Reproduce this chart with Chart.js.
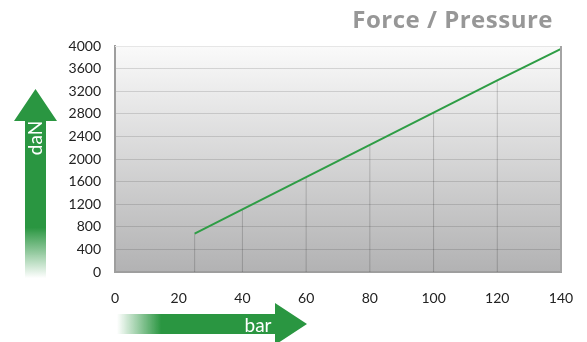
<!DOCTYPE html>
<html>
<head>
  <meta charset="utf-8">
  <script src="https://cdn.jsdelivr.net/npm/chart.js@4.4.1/dist/chart.umd.min.js"></script>
  <style>
    html, body { margin: 0; padding: 0; background: #fff; }
    .chart-box { position: relative; width: 587px; height: 342px; }
    .chart-title { position: absolute; right: 34px; top: 2px; font: bold 24px "Open Sans", sans-serif; color: #979797; letter-spacing: 0.5px; }
  </style>
</head>
<body>
  <div class="chart-box">
    <canvas id="forceChart" width="587" height="342"></canvas>
    <div class="chart-title">Force / Pressure</div>
  </div>

  <script>
    // Pressure (bar) and resulting force (daN)
    const pressures = [25, 40, 60, 80, 100, 120, 140];
    const forces = [680, 1110, 1680, 2250, 2820, 3390, 3950];

    const xTicks = [0, 20, 40, 60, 80, 100, 120, 140];
    const yTicks = [0, 400, 800, 1200, 1600, 2000, 2400, 2800, 3200, 3600, 4000];

    const green = "#2a9641";

    // vertical drop lines from the axis up to the curve
    const dropSets = pressures.slice(0, -1).map((p, i) => ({
      type: "line",
      data: [{ x: p, y: 0 }, { x: p, y: forces[i] }],
      borderColor: "rgba(0,0,0,0.18)",
      borderWidth: 1,
      pointRadius: 0,
      order: 2,
    }));

    // gray gradient behind the plot
    const plotBackground = {
      id: "plotBackground",
      beforeDraw(chart) {
        const { ctx, chartArea: a } = chart;
        const g = ctx.createLinearGradient(0, a.top, 0, a.bottom);
        g.addColorStop(0, "#fafafa");
        g.addColorStop(1, "#b2b2b3");
        ctx.save();
        ctx.fillStyle = g;
        ctx.fillRect(a.left, a.top, a.right - a.left, a.bottom - a.top);
        ctx.restore();
      },
      afterDatasetsDraw(chart) {
        const { ctx, chartArea: a } = chart;
        ctx.save();
        ctx.strokeStyle = "#e6e6e6";
        ctx.lineWidth = 1;
        ctx.beginPath();
        ctx.moveTo(a.left, a.top + 0.5);
        ctx.lineTo(a.right, a.top + 0.5);
        ctx.stroke();
        ctx.strokeStyle = "#a4a4a4";
        ctx.lineWidth = 2;
        ctx.beginPath();
        ctx.moveTo(a.right, a.top);
        ctx.lineTo(a.right, a.bottom);
        ctx.stroke();
        ctx.restore();
      },
    };

    // green axis arrows with their unit labels
    const axisArrows = {
      id: "axisArrows",
      afterDraw(chart) {
        const ctx = chart.ctx;
        ctx.save();

        // vertical arrow (daN)
        let g = ctx.createLinearGradient(0, 120, 0, 278);
        g.addColorStop(0, green);
        g.addColorStop(0.68, green);
        g.addColorStop(1, "rgba(42,150,65,0)");
        ctx.fillStyle = g;
        ctx.beginPath();
        ctx.moveTo(35.5, 89);
        ctx.lineTo(57, 121);
        ctx.lineTo(46, 121);
        ctx.lineTo(46, 278);
        ctx.lineTo(25, 278);
        ctx.lineTo(25, 121);
        ctx.lineTo(14, 121);
        ctx.closePath();
        ctx.fill();

        // horizontal arrow (bar)
        g = ctx.createLinearGradient(117, 0, 275, 0);
        g.addColorStop(0, "rgba(42,150,65,0)");
        g.addColorStop(0.28, green);
        g.addColorStop(1, green);
        ctx.fillStyle = g;
        ctx.beginPath();
        ctx.moveTo(117, 314);
        ctx.lineTo(275, 314);
        ctx.lineTo(275, 303);
        ctx.lineTo(307, 324);
        ctx.lineTo(275, 345);
        ctx.lineTo(275, 334);
        ctx.lineTo(117, 334);
        ctx.closePath();
        ctx.fill();

        ctx.fillStyle = "#fff";
        ctx.font = "19px Lato, sans-serif";
        ctx.textAlign = "center";
        ctx.textBaseline = "alphabetic";
        ctx.fillText("bar", 258, 332);

        ctx.translate(42, 138);
        ctx.rotate(-Math.PI / 2);
        ctx.fillText("daN", 0, 0);
        ctx.restore();
      },
    };

    new Chart(document.getElementById("forceChart"), {
      type: "scatter",
      data: {
        datasets: [
          {
            type: "line",
            data: pressures.map((p, i) => ({ x: p, y: forces[i] })),
            borderColor: "#2e9d45",
            borderWidth: 2,
            pointRadius: 0,
            tension: 0,
            order: 1,
          },
          ...dropSets,
        ],
      },
      options: {
        responsive: false,
        animation: false,
        layout: { padding: { left: 0, right: 26, top: 46, bottom: 0 } },
        scales: {
          x: {
            type: "linear",
            min: 0,
            max: 140,
            afterBuildTicks: (s) => { s.ticks = xTicks.map((v) => ({ value: v })); },
            afterFit: (s) => { s.height = 70; s.paddingLeft = 0; s.paddingRight = 0; },
            grid: { display: false, drawTicks: false },
            border: { display: true, color: "#9e9e9e", width: 2 },
            ticks: { color: "#222", padding: 18, font: { family: "Lato", size: 14 }, callback: (v) => String(v) },
          },
          y: {
            min: 0,
            max: 4000,
            afterBuildTicks: (s) => { s.ticks = yTicks.map((v) => ({ value: v })); },
            afterFit: (s) => { s.width = 115; s.paddingTop = 0; s.paddingBottom = 0; },
            grid: { color: "rgba(0,0,0,0.13)", drawTicks: false },
            border: { display: true, color: "#9e9e9e", width: 2 },
            ticks: { color: "#222", padding: 14, font: { family: "Lato", size: 14 }, callback: (v) => String(v) },
          },
        },
        plugins: {
          legend: { display: false },
          tooltip: { enabled: false },
        },
      },
      plugins: [plotBackground, axisArrows],
    });
  </script>
</body>
</html>
